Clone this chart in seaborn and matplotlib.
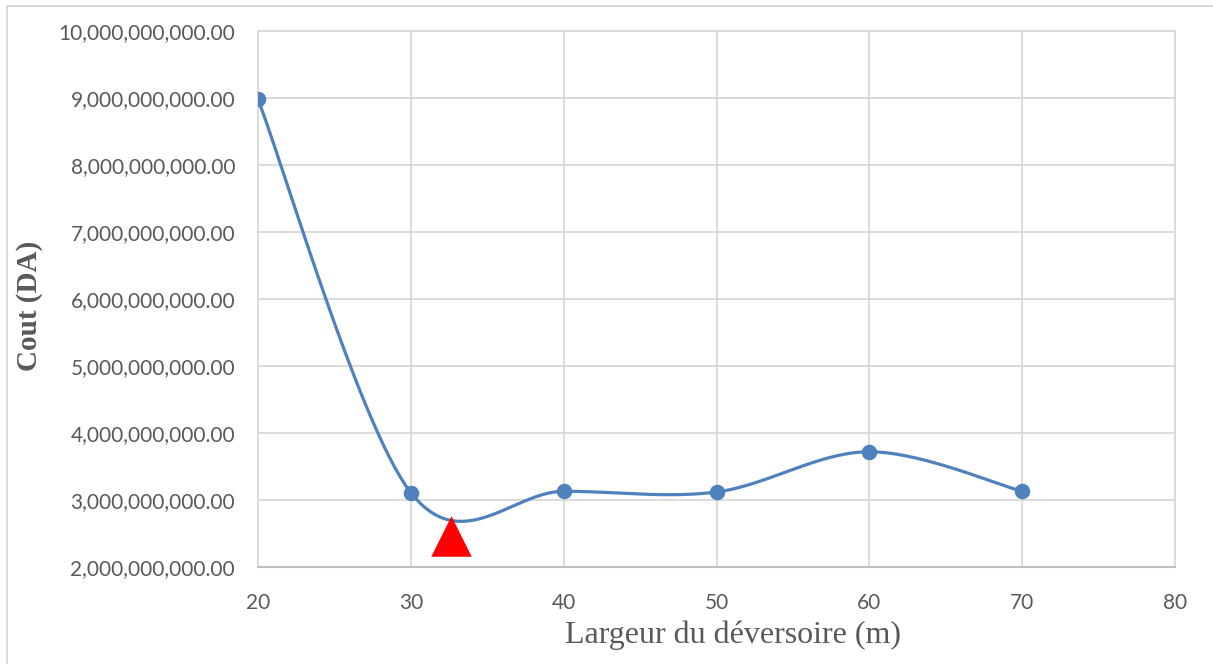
import numpy as np
import pandas as pd
import matplotlib
matplotlib.use("Agg")
import matplotlib.pyplot as plt
import seaborn as sns
from matplotlib.ticker import FuncFormatter, MultipleLocator
from matplotlib.patches import Rectangle

# ---- data ----
largeur = [20, 30, 40, 50, 60, 70]
cout = [8.98e9, 3.11e9, 3.13e9, 3.12e9, 3.72e9, 3.13e9]
opt_x = [32.6]
opt_y = [2.47e9]
x_label = "Largeur du déversoire (m)"
y_label = "Cout (DA)"

sns.set_theme(style="white")
plt.rcParams['font.family'] = ['Lato', 'DejaVu Sans']

W, H = 1213, 664
fig = plt.figure(figsize=(W / 100, H / 100), dpi=100)
ax = fig.add_axes([258 / W, 1 - 567 / H, (1175 - 258) / W, (567 - 31) / H])

# Excel-style smoothed line (Bezier through points, Catmull-Rom control points)
px = np.array(largeur, float)
py = np.array(cout, float)
n = len(px)
sx, sy = [], []
t = np.linspace(0, 1, 60)
for i in range(n - 1):
    p0 = np.array([px[max(i - 1, 0)], py[max(i - 1, 0)]])
    p1 = np.array([px[i], py[i]])
    p2 = np.array([px[i + 1], py[i + 1]])
    p3 = np.array([px[min(i + 2, n - 1)], py[min(i + 2, n - 1)]])
    c1 = p1 + (p2 - p0) / 6
    c2 = p2 - (p3 - p1) / 6
    b = ((1 - t) ** 3)[:, None] * p1 + (3 * (1 - t) ** 2 * t)[:, None] * c1 \
        + (3 * (1 - t) * t ** 2)[:, None] * c2 + (t ** 3)[:, None] * p2
    sx.extend(b[:, 0]); sy.extend(b[:, 1])
curve = pd.DataFrame({"x": sx, "y": sy})
df = pd.DataFrame({"x": largeur, "y": cout})

color = "#4F81BD"
sns.lineplot(data=curve, x="x", y="y", ax=ax, color=color, linewidth=2.3, sort=False,
             estimator=None, zorder=3)
sns.scatterplot(data=df, x="x", y="y", ax=ax, color=color, s=125, edgecolor=color,
                linewidth=0, zorder=4)
sns.scatterplot(x=opt_x, y=opt_y, ax=ax, marker="^", color="#FF0000", s=850,
                edgecolor="#FF0000", linewidth=0, zorder=5)

ax.set_xlim(20, 80)
ax.set_ylim(2e9, 10e9)
ax.xaxis.set_major_locator(MultipleLocator(10))
ax.yaxis.set_major_locator(MultipleLocator(1e9))
ax.yaxis.set_major_formatter(FuncFormatter(lambda v, p: f"{v:,.2f}"))
ax.grid(True, color="#D9D9D9", linewidth=1.3)
ax.set_axisbelow(True)
for s in ["top", "right", "left"]:
    ax.spines[s].set_color("#D9D9D9")
    ax.spines[s].set_linewidth(1.3)
ax.spines["bottom"].set_color("#BFBFBF")
ax.spines["bottom"].set_linewidth(1.5)
ax.tick_params(axis="both", length=0, labelsize=15, labelcolor="#595959")
ax.tick_params(axis="x", pad=19)
ax.tick_params(axis="y", pad=16.5)

ax.set_xlabel(x_label, family="Liberation Serif", fontsize=23, color="#595959")
ax.set_ylabel(y_label, family="Liberation Serif", fontsize=21, color="#595959",
              fontweight="bold")
ax.xaxis.set_label_coords(0.5185, -0.100)
ax.yaxis.set_label_coords(-0.2345, 0.487)

fig.patches.append(Rectangle((7 / W, -0.05), 1.2, 1 - 6 / H + 0.05, transform=fig.transFigure,
                             fill=False, edgecolor="#D9D9D9", linewidth=1.3))

fig.savefig("out.png", dpi=100)
